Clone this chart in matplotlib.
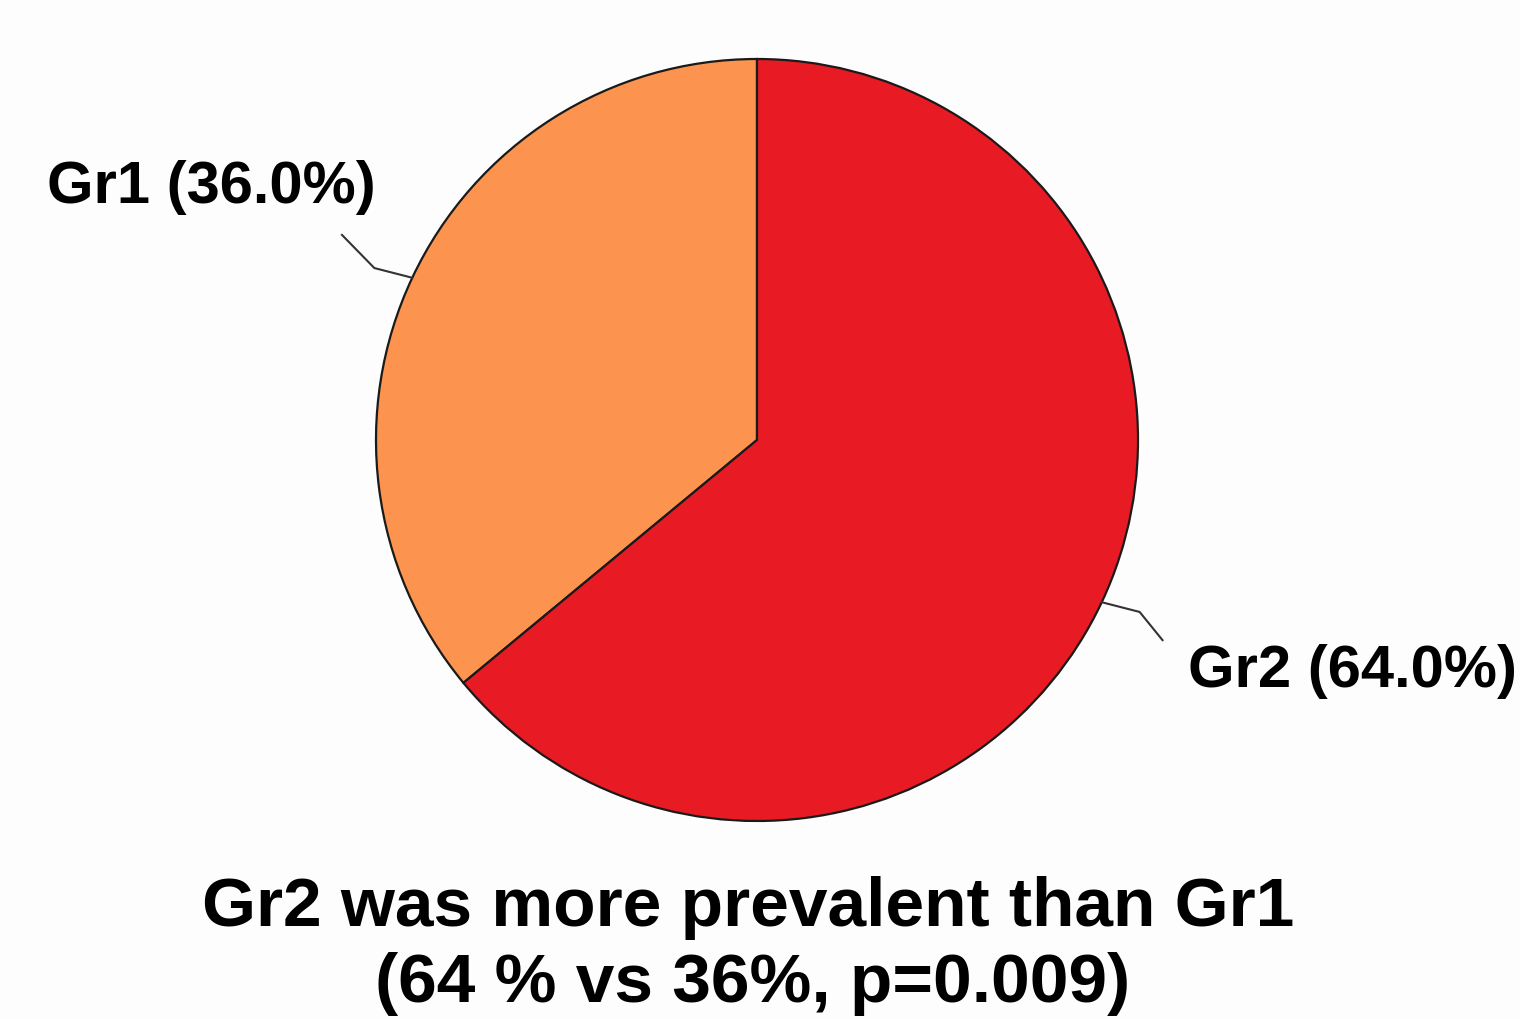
import matplotlib
matplotlib.use("Agg")
import matplotlib.pyplot as plt
import numpy as np

labels = ["Gr1", "Gr2"]
values = [36.0, 64.0]
colors = ["#FC934F", "#E81B24"]
title_lines = ["Gr2 was more prevalent than Gr1", "(64 % vs 36%, p=0.009)"]

W, H = 1520, 1019
fig = plt.figure(figsize=(W / 100, H / 100), dpi=100)
fig.patch.set_facecolor("#FDFDFD")

cx, cy, r = 757, 440, 381
ax = fig.add_axes([(cx - r) / W, (H - cy - r) / H, 2 * r / W, 2 * r / H])
ax.set_facecolor("none")
wedges, _ = ax.pie(values, colors=colors, startangle=90, counterclock=True,
                   radius=1.0,
                   wedgeprops=dict(edgecolor="#1a1a1a", linewidth=1.6))
ax.set_xlim(-1, 1)
ax.set_ylim(-1, 1)
ax.set_aspect("auto")
ax.axis("off")

font = dict(family=["Liberation Sans", "DejaVu Sans"], fontweight="bold", color="black")

for w, lab, v in zip(wedges, labels, values):
    ang = np.deg2rad((w.theta1 + w.theta2) / 2)
    c, s = np.cos(ang), np.sin(ang)
    p0 = (c, s)
    p1 = (1.11 * c, 1.06 * s)
    if c < 0:
        p2 = (p1[0] - 0.085, p1[1] + 0.087)
    else:
        p2 = (p1[0] + 0.06, p1[1] - 0.074)
    ax.plot([p0[0], p1[0], p2[0]], [p0[1], p1[1], p2[1]], color="#333333",
            lw=1.5, clip_on=False)
    txt = f"{lab} ({v:.1f}%)"
    if c < 0:
        fig.text(211 / W, 1 - 203 / H, txt, ha="center", va="baseline", fontsize=43, **font)
    else:
        fig.text(1353 / W, 1 - 687 / H, txt, ha="center", va="baseline", fontsize=43, **font)

fig.text(748 / W, 1 - 926 / H, title_lines[0], ha="center", va="baseline", fontsize=50, **font)
fig.text(753 / W, 1 - 1002 / H, title_lines[1], ha="center", va="baseline", fontsize=50, **font)

fig.savefig("out.png", dpi=100, facecolor=fig.get_facecolor())
